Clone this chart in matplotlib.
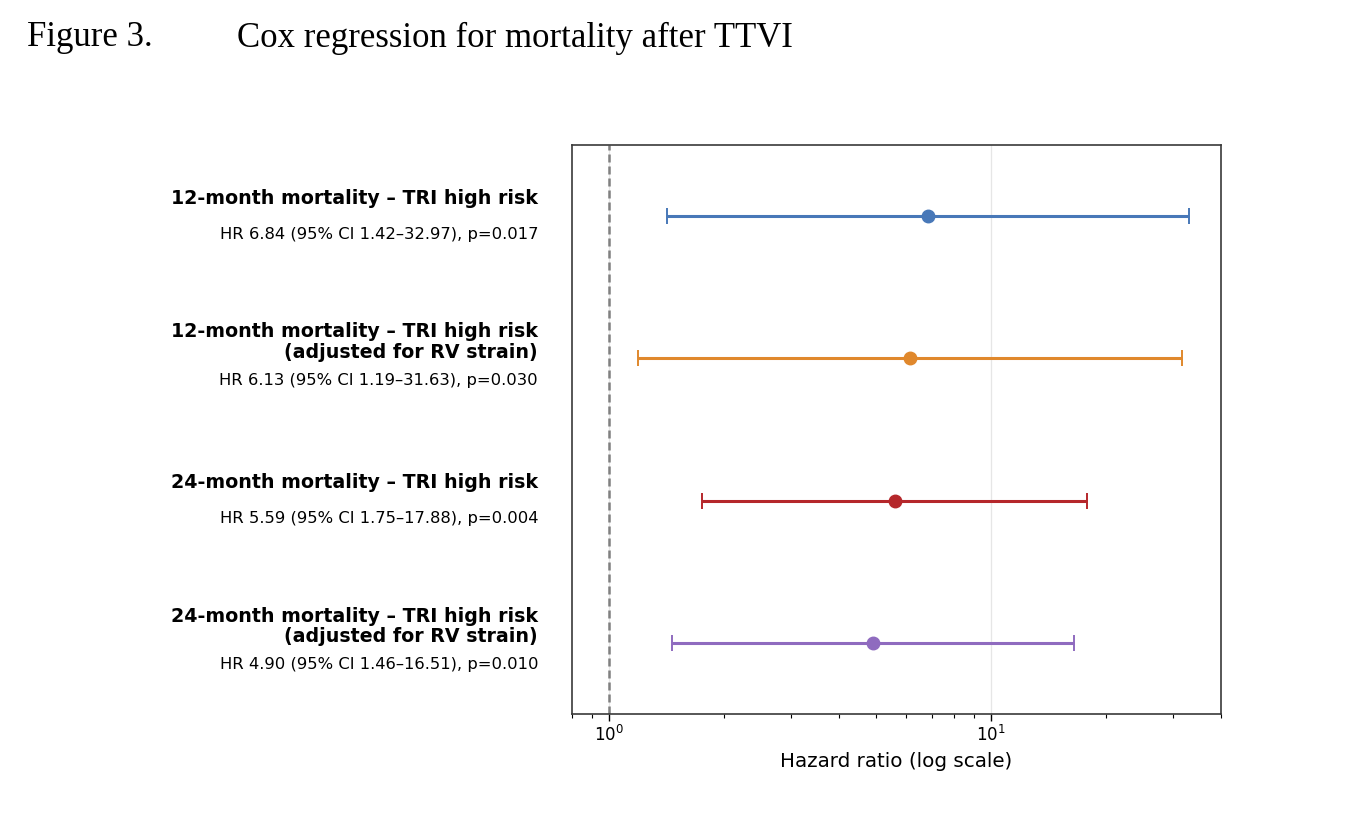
import matplotlib
matplotlib.use("Agg")
import matplotlib.pyplot as plt
import numpy as np

plt.rcParams["font.family"] = ["DejaVu Sans"]
plt.rcParams["mathtext.fontset"] = "dejavusans"

# ---- data ----
titles = [
    "12-month mortality – TRI high risk",
    "12-month mortality – TRI high risk\n(adjusted for RV strain)",
    "24-month mortality – TRI high risk",
    "24-month mortality – TRI high risk\n(adjusted for RV strain)",
]
hr = [6.84, 6.13, 5.59, 4.90]
ci_low = [1.42, 1.19, 1.75, 1.46]
ci_high = [32.97, 31.63, 17.88, 16.51]
pvals = ["0.017", "0.030", "0.004", "0.010"]
colors = ["#4878b8", "#e0882c", "#b5272b", "#8f6bbf"]

fig = plt.figure(figsize=(13.72, 8.16), dpi=100)
fig.patch.set_facecolor("white")
ax = fig.add_axes([572/1372, 1-714/816, (1221-572)/1372, (714-145)/816])

ypos = np.arange(len(hr))
for i in range(len(hr)):
    ax.errorbar(hr[i], ypos[i],
                xerr=[[hr[i]-ci_low[i]], [ci_high[i]-hr[i]]],
                fmt="o", color=colors[i], ecolor=colors[i],
                elinewidth=2.2, capsize=6, capthick=1.4, markersize=9, zorder=3)

ax.axvline(1, color="#808080", linestyle=(0, (3.2, 1.6)), linewidth=1.8, zorder=2)
ax.set_xscale("log")
ax.set_xlim(0.8, 40)
ax.set_ylim(3.5, -0.5)
ax.set_yticks([])
ax.grid(axis="x", which="major", color="#e6e6e6", linewidth=0.9, zorder=0)
ax.set_axisbelow(True)
for s in ax.spines.values():
    s.set_linewidth(1.2)
    s.set_color("#3a3a3a")
ax.tick_params(axis="x", which="major", length=5, width=1, labelsize=12, pad=3)
ax.tick_params(axis="x", which="minor", length=3, width=0.8)
ax.set_xlabel("Hazard ratio (log scale)", fontsize=14.3, labelpad=5)

# labels left of axes
for i in range(len(hr)):
    nlines = titles[i].count("\n") + 1
    if nlines == 1:
        boff, hoff = 18, -18
    else:
        boff, hoff = 16.5, -22
    ax.annotate(titles[i], xy=(0, ypos[i]), xycoords=("axes fraction", "data"),
                xytext=(-34, boff), textcoords="offset pixels",
                ha="right", va="center", fontsize=13.7, fontweight="bold",
                linespacing=1.1, annotation_clip=False)
    sub = f"HR {hr[i]:.2f} (95% CI {ci_low[i]:.2f}–{ci_high[i]:.2f}), p={pvals[i]}"
    ax.annotate(sub, xy=(0, ypos[i]), xycoords=("axes fraction", "data"),
                xytext=(-34, hoff), textcoords="offset pixels",
                ha="right", va="center", fontsize=11.8, annotation_clip=False)

fig.text(27/1372, 1-38/816, "Figure 3.", family="Liberation Serif", fontsize=25,
         ha="left", va="center")
fig.text(237/1372, 1-38/816, "Cox regression for mortality after TTVI",
         family="Liberation Serif", fontsize=25, ha="left", va="center")

fig.savefig("out.png", dpi=100, facecolor="white")
